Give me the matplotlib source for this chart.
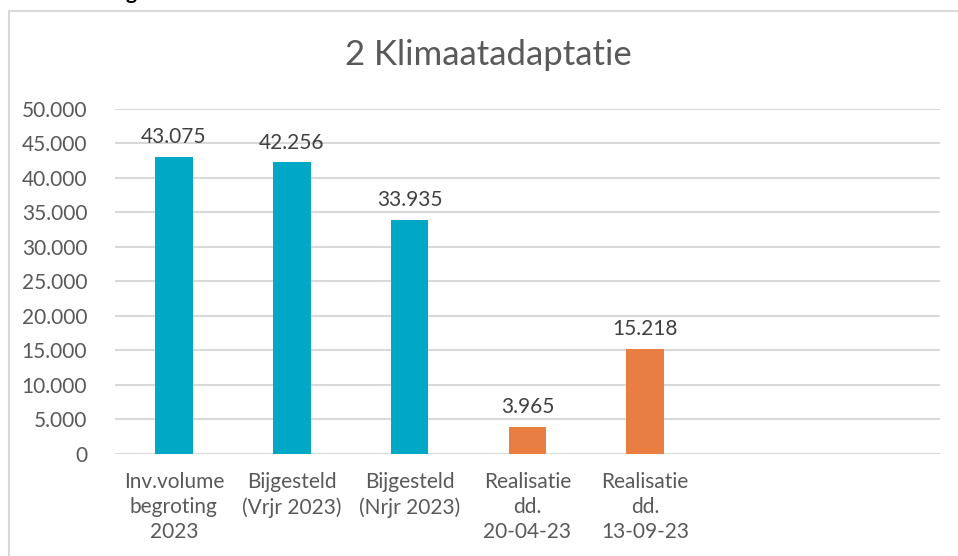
import matplotlib as mpl
mpl.use('agg')

import matplotlib.pyplot as plt
import matplotlib.patches as mpatches
import numpy as np

plt.rcParams['font.family'] = ['Lato', 'DejaVu Sans']

categories = ["Inv.volume\nbegroting\n2023",
              "Bijgesteld\n(Vrjr 2023)",
              "Bijgesteld\n(Nrjr 2023)",
              "Realisatie\ndd.\n20-04-23",
              "Realisatie\ndd.\n13-09-23",
              "",
              ""]
values = [43075, 42256, 33935, 3965, 15218, None, None]
bar_colors = ["#00A8C5", "#00A8C5", "#00A8C5", "#E97E42", "#E97E42", None, None]
title = "2 Klimaatadaptatie"


def fmt(v):
    return "{:,}".format(int(v)).replace(",", ".")


fig = plt.figure(figsize=(9.58, 5.56), dpi=100)
ax = fig.add_axes([0.120, 0.1835, 0.861, 0.6205])

# chart border (light gray frame, partly outside the picture)
W, H = 958.0, 556.0
fig.patches.append(mpatches.Rectangle((9 / W, -0.05), 1.2, 545 / H + 0.05,
                                      transform=fig.transFigure, fill=False,
                                      edgecolor="#D9D9D9", linewidth=1.5,
                                      zorder=0))
# cut-off heading above the chart
fig.text(125 / W, 1 + 1 / H, "g", fontsize=15, fontweight='bold',
         color="black", ha='left', va='baseline')

x = np.arange(len(categories))
for i, (v, c) in enumerate(zip(values, bar_colors)):
    if v is None:
        continue
    ax.bar(x[i], v, width=0.32, color=c, zorder=3)
    ax.text(x[i], v + 1400, fmt(v), ha='center', va='bottom',
            fontsize=15, color="#404040")

ax.set_xlim(-0.5, len(categories) - 0.5)
ax.set_ylim(0, 50000)
ax.set_yticks(np.arange(0, 50001, 5000))
ax.set_yticklabels([fmt(t) for t in np.arange(0, 50001, 5000)],
                   fontsize=15, color="#595959")
ax.set_xticks(x)
ax.set_xticklabels(categories, fontsize=15, color="#595959", linespacing=1.32)
ax.tick_params(axis='both', length=0)
ax.tick_params(axis='y', pad=20)
ax.tick_params(axis='x', pad=13)

ax.grid(axis='y', color="#D9D9D9", linewidth=1.5, zorder=0)
for s in ax.spines.values():
    s.set_visible(False)

fig.text(488 / W, 1 - 55 / H, title, fontsize=25, color="#595959",
         ha='center', va='center')

fig.savefig("out.png", dpi=100)
